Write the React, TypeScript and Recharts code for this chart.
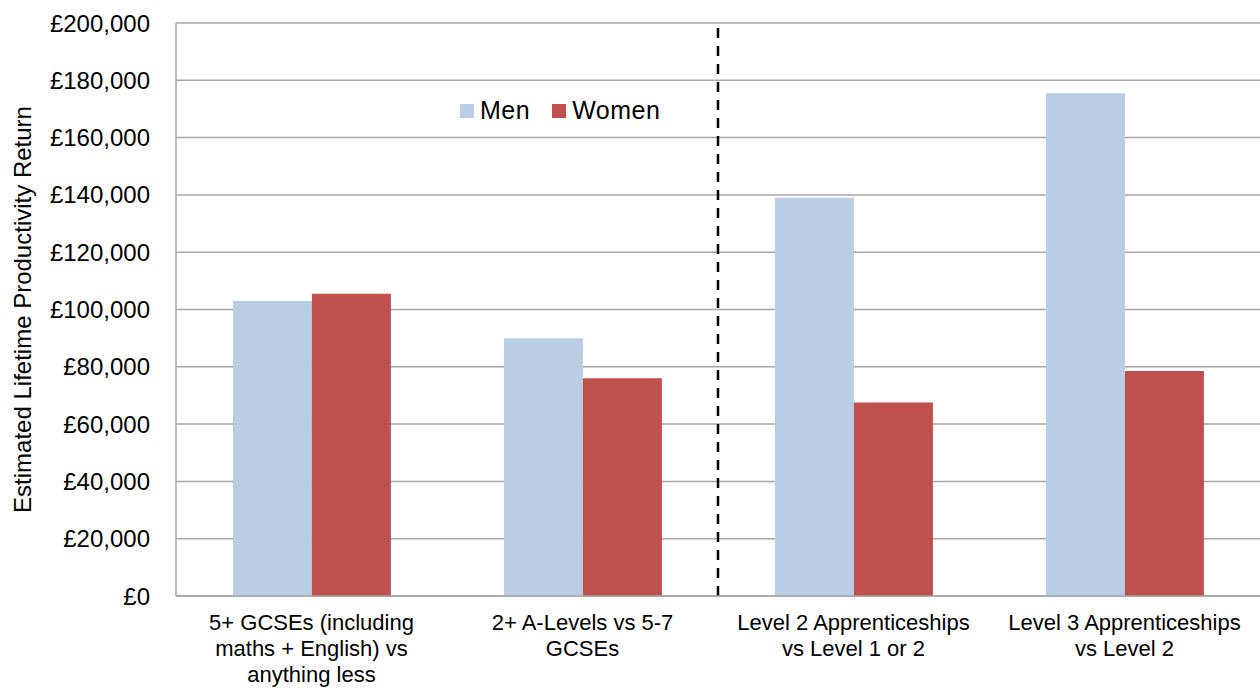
import { BarChart, Bar, XAxis, YAxis, CartesianGrid, Legend, ReferenceLine } from 'recharts';

const categories = [
  '5+ GCSEs (including\nmaths + English) vs\nanything less',
  '2+ A-Levels vs 5-7\nGCSEs',
  'Level 2 Apprenticeships\nvs Level 1 or 2',
  'Level 3 Apprenticeships\nvs Level 2',
];
const men = [103000, 90000, 139000, 175500];
const women = [105500, 76000, 67500, 78500];
const yTicks = [0, 20000, 40000, 60000, 80000, 100000, 120000, 140000, 160000, 180000, 200000];

const data = categories.map((name, i) => ({ name, Men: men[i], Women: women[i] }));

const FONT = '"Liberation Sans", Arial, sans-serif';

const CategoryTick = (props: any) => {
  const { x, y, payload } = props;
  const lines = String(payload.value).split('\n');
  return (
    <text x={x} y={y} textAnchor="middle" fontSize={22} fill="#000" fontFamily={FONT}>
      {lines.map((line: string, i: number) => (
        <tspan key={i} x={x} dy={i === 0 ? 34 : 26}>
          {line}
        </tspan>
      ))}
    </text>
  );
};

const LegendContent = (props: any) => {
  const { payload } = props;
  return (
    <div style={{ display: 'flex', alignItems: 'center', fontFamily: FONT, fontSize: 25, color: '#000' }}>
      {payload.map((entry: any) => (
        <div key={entry.value} style={{ display: 'flex', alignItems: 'center', marginRight: 22 }}>
          <span style={{ display: 'inline-block', width: 14, height: 14, background: entry.color, marginRight: 6 }} />
          <span style={{ letterSpacing: 0.5 }}>{entry.value}</span>
        </div>
      ))}
    </div>
  );
};

const App = () => {
  return (
    <div style={{ position: 'absolute', left: 0, top: 0, width: 1260, height: 691, overflow: 'hidden', background: '#fff' }}>
      <BarChart
        width={1260}
        height={691}
        data={data}
        margin={{ top: 23, right: 0, left: 0, bottom: 0 }}
        barCategoryGap="21%"
        barGap={0}
      >
        <CartesianGrid vertical={false} stroke="#a6a6a6" strokeWidth={1.5} />
        <XAxis
          dataKey="name"
          height={95}
          tick={<CategoryTick />}
          tickLine={false}
          tickSize={0}
          tickMargin={0}
          axisLine={{ stroke: '#a6a6a6', strokeWidth: 1.5 }}
          interval={0}
        />
        <YAxis
          width={176}
          domain={[0, 200000]}
          ticks={yTicks}
          tickFormatter={(v: number) => '£' + v.toLocaleString('en-GB')}
          tick={{ fontSize: 24, fill: '#000', fontFamily: FONT }}
          tickLine={false}
          tickSize={0}
          tickMargin={26}
          axisLine={{ stroke: '#a6a6a6', strokeWidth: 1.5 }}
          label={{
            value: 'Estimated Lifetime Productivity Return',
            angle: -90,
            position: 'insideLeft',
            offset: 22,
            style: { textAnchor: 'middle', fontSize: 24, fill: '#000', fontFamily: FONT },
          }}
        />
        <Legend
          verticalAlign="middle"
          content={<LegendContent />}
          wrapperStyle={{ position: 'absolute', left: 460, top: 96, width: 260 }}
        />
        <ReferenceLine
          x={categories[2]}
          position="start"
          stroke="#000"
          strokeWidth={2.5}
          strokeDasharray="10 8"
        />
        <Bar dataKey="Men" fill="#b9cde5" isAnimationActive={false} />
        <Bar dataKey="Women" fill="#c0504d" isAnimationActive={false} />
      </BarChart>
    </div>
  );
};

export default App;
